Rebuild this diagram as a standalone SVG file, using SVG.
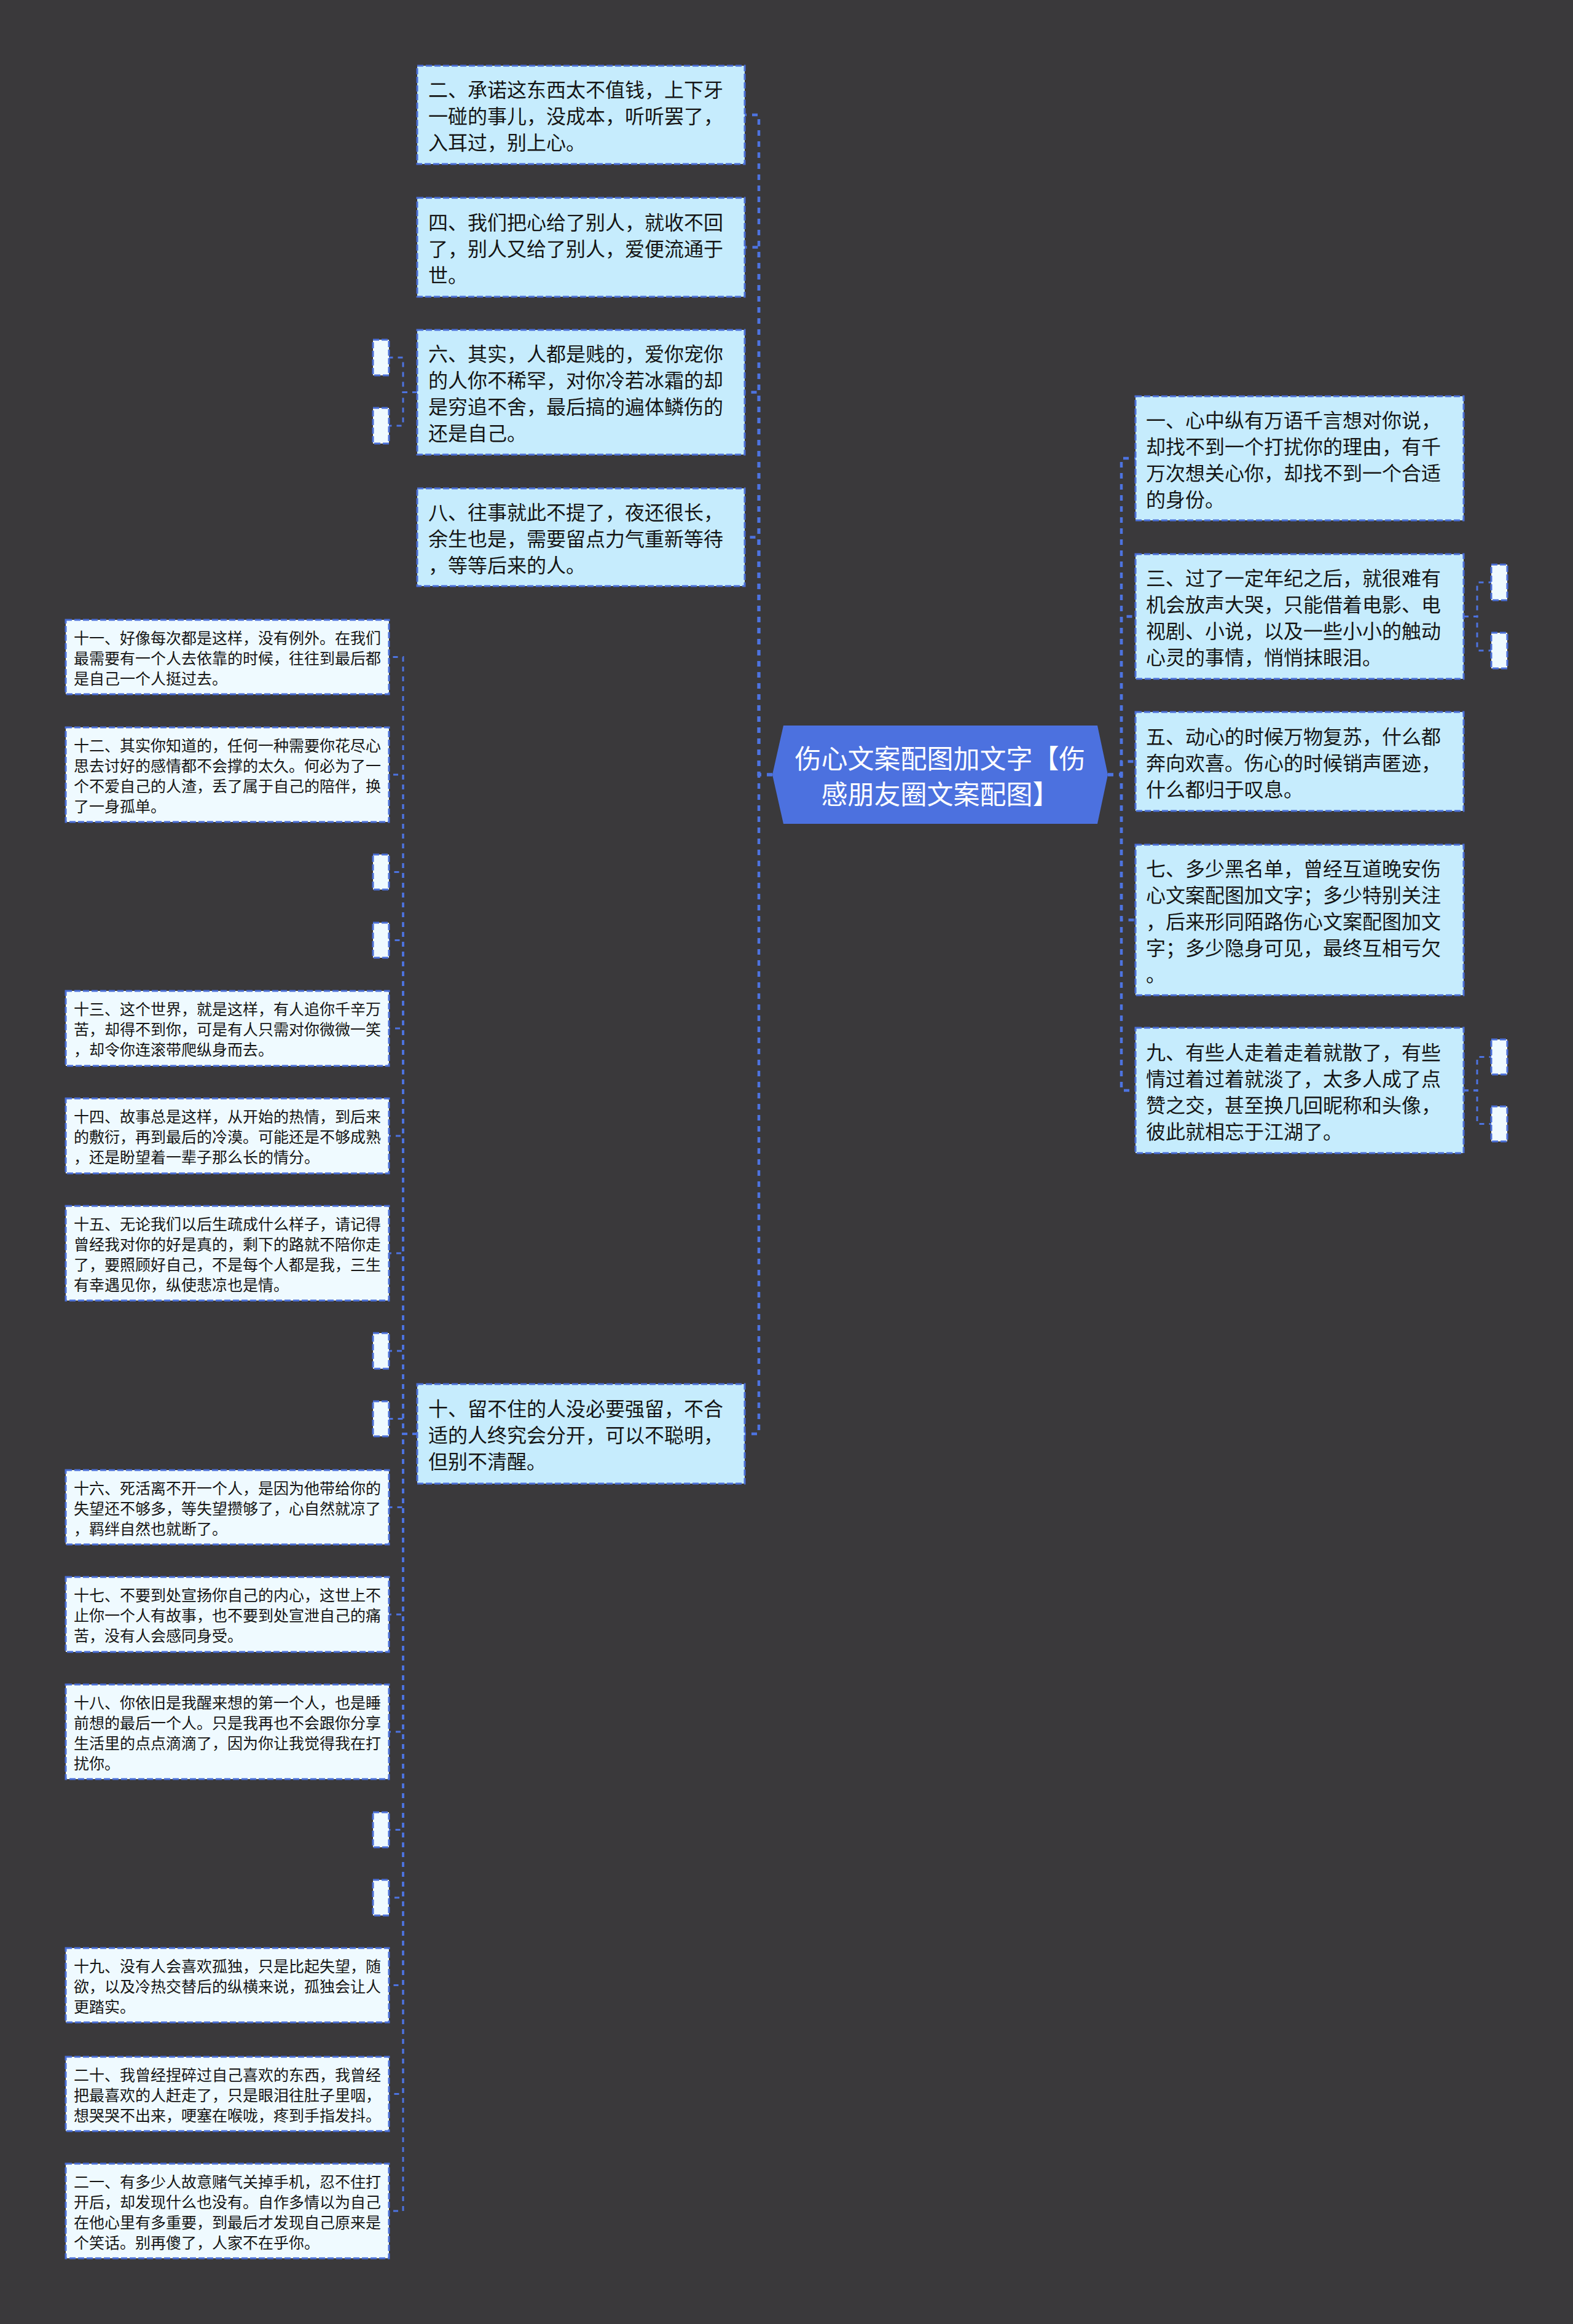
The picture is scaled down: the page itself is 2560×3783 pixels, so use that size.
<svg xmlns="http://www.w3.org/2000/svg" width="2560" height="3783" viewBox="0 0 2560 3783">
<style>
.bg{fill:#3a393b}
.l1{fill:#c6ecfd;stroke:#4a6fd8;stroke-width:3;stroke-dasharray:10 4}
.l2{fill:#effaff;stroke:#4a6fd8;stroke-width:3;stroke-dasharray:10 4}
.root{fill:#4c71df}
.c1{fill:none;stroke:#4d73e0;stroke-width:4.5;stroke-dasharray:9 9}
.c2{fill:none;stroke:#4d73e0;stroke-width:3;stroke-dasharray:8 8}
text{font-family:"Noto Sans CJK SC","Noto Sans",sans-serif;dominant-baseline:central;fill:#151515}
.t1{font-size:32px}
.t2{font-size:25px}
.tr{font-size:43px;fill:#ffffff;text-anchor:middle}
</style>
<rect class="bg" x="0" y="0" width="2560" height="3783"/>
<g id="connectors">
<path class="c1" d="M1257 1261 H1235 V187 H1212"/>
<path class="c1" d="M1257 1261 H1235 V402.5 H1212"/>
<path class="c1" d="M1257 1261 H1235 V638.5 H1212"/>
<path class="c1" d="M1257 1261 H1235 V874.5 H1212"/>
<path class="c1" d="M1257 1261 H1235 V2334 H1212"/>
<path class="c1" d="M1803 1261 H1825 V746 H1848"/>
<path class="c1" d="M1803 1261 H1825 V1003.5 H1848"/>
<path class="c1" d="M1803 1261 H1825 V1239.5 H1848"/>
<path class="c1" d="M1803 1261 H1825 V1497.5 H1848"/>
<path class="c1" d="M1803 1261 H1825 V1775 H1848"/>
<path class="c2" d="M679 638.5 H656 V582 H633"/>
<path class="c2" d="M679 638.5 H656 V693 H633"/>
<path class="c2" d="M2382 1003.5 H2404 V948 H2427"/>
<path class="c2" d="M2382 1003.5 H2404 V1059 H2427"/>
<path class="c2" d="M2382 1775 H2404 V1720.5 H2427"/>
<path class="c2" d="M2382 1775 H2404 V1829.5 H2427"/>
<path class="c2" d="M679 2334 H656 V1069.5 H633"/>
<path class="c2" d="M679 2334 H656 V1261 H633"/>
<path class="c2" d="M679 2334 H656 V1419.5 H633"/>
<path class="c2" d="M679 2334 H656 V1530.5 H633"/>
<path class="c2" d="M679 2334 H656 V1674 H633"/>
<path class="c2" d="M679 2334 H656 V1849 H633"/>
<path class="c2" d="M679 2334 H656 V2040 H633"/>
<path class="c2" d="M679 2334 H656 V2199 H633"/>
<path class="c2" d="M679 2334 H656 V2309.5 H633"/>
<path class="c2" d="M679 2334 H656 V2453.5 H633"/>
<path class="c2" d="M679 2334 H656 V2628 H633"/>
<path class="c2" d="M679 2334 H656 V2819 H633"/>
<path class="c2" d="M679 2334 H656 V2978.5 H633"/>
<path class="c2" d="M679 2334 H656 V3089 H633"/>
<path class="c2" d="M679 2334 H656 V3231.5 H633"/>
<path class="c2" d="M679 2334 H656 V3408.5 H633"/>
<path class="c2" d="M679 2334 H656 V3599 H633"/>
</g>
<g id="root">
<polygon class="root" points="1257,1261 1275,1181 1786,1181 1803,1261 1786,1341 1275,1341"/>
<text class="tr"><tspan x="1530" y="1232">伤心文案配图加文字【伤</tspan><tspan x="1530" y="1290">感朋友圈文案配图】</tspan></text>
</g>
<g id="n2">
<rect class="l1" x="679" y="107" width="533" height="160"/>
<text class="t1"><tspan x="697" y="144">二、承诺这东西太不值钱，上下牙</tspan><tspan x="697" y="187">一碰的事儿，没成本，听听罢了，</tspan><tspan x="697" y="230">入耳过，别上心。</tspan></text>
</g>
<g id="n4">
<rect class="l1" x="679" y="322" width="533" height="161"/>
<text class="t1"><tspan x="697" y="359.5">四、我们把心给了别人，就收不回</tspan><tspan x="697" y="402.5">了，别人又给了别人，爱便流通于</tspan><tspan x="697" y="445.5">世。</tspan></text>
</g>
<g id="n6">
<rect class="l1" x="679" y="537" width="533" height="203"/>
<text class="t1"><tspan x="697" y="574">六、其实，人都是贱的，爱你宠你</tspan><tspan x="697" y="617">的人你不稀罕，对你冷若冰霜的却</tspan><tspan x="697" y="660">是穷追不舍，最后搞的遍体鳞伤的</tspan><tspan x="697" y="703">还是自己。</tspan></text>
</g>
<g id="n6a"><rect class="l2" x="607" y="553" width="26" height="58"/></g>
<g id="n6b"><rect class="l2" x="607" y="664" width="26" height="58"/></g>
<g id="n8">
<rect class="l1" x="679" y="795" width="533" height="159"/>
<text class="t1"><tspan x="697" y="831.5">八、往事就此不提了，夜还很长，</tspan><tspan x="697" y="874.5">余生也是，需要留点力气重新等待</tspan><tspan x="697" y="917.5">，等等后来的人。</tspan></text>
</g>
<g id="n10">
<rect class="l1" x="679" y="2253" width="533" height="162"/>
<text class="t1"><tspan x="697" y="2291">十、留不住的人没必要强留，不合</tspan><tspan x="697" y="2334">适的人终究会分开，可以不聪明，</tspan><tspan x="697" y="2377">但别不清醒。</tspan></text>
</g>
<g id="n1">
<rect class="l1" x="1848" y="645" width="534" height="202"/>
<text class="t1"><tspan x="1865" y="681.5">一、心中纵有万语千言想对你说，</tspan><tspan x="1865" y="724.5">却找不到一个打扰你的理由，有千</tspan><tspan x="1865" y="767.5">万次想关心你，却找不到一个合适</tspan><tspan x="1865" y="810.5">的身份。</tspan></text>
</g>
<g id="n3">
<rect class="l1" x="1848" y="902" width="534" height="203"/>
<text class="t1"><tspan x="1865" y="939">三、过了一定年纪之后，就很难有</tspan><tspan x="1865" y="982">机会放声大哭，只能借着电影、电</tspan><tspan x="1865" y="1025">视剧、小说，以及一些小小的触动</tspan><tspan x="1865" y="1068">心灵的事情，悄悄抹眼泪。</tspan></text>
</g>
<g id="n3a"><rect class="l2" x="2427" y="919" width="26" height="58"/></g>
<g id="n3b"><rect class="l2" x="2427" y="1030" width="26" height="58"/></g>
<g id="n5">
<rect class="l1" x="1848" y="1159" width="534" height="161"/>
<text class="t1"><tspan x="1865" y="1196.5">五、动心的时候万物复苏，什么都</tspan><tspan x="1865" y="1239.5">奔向欢喜。伤心的时候销声匿迹，</tspan><tspan x="1865" y="1282.5">什么都归于叹息。</tspan></text>
</g>
<g id="n7">
<rect class="l1" x="1848" y="1375" width="534" height="245"/>
<text class="t1"><tspan x="1865" y="1411.5">七、多少黑名单，曾经互道晚安伤</tspan><tspan x="1865" y="1454.5">心文案配图加文字；多少特别关注</tspan><tspan x="1865" y="1497.5">，后来形同陌路伤心文案配图加文</tspan><tspan x="1865" y="1540.5">字；多少隐身可见，最终互相亏欠</tspan><tspan x="1865" y="1583.5">。</tspan></text>
</g>
<g id="n9">
<rect class="l1" x="1848" y="1673" width="534" height="204"/>
<text class="t1"><tspan x="1865" y="1710.5">九、有些人走着走着就散了，有些</tspan><tspan x="1865" y="1753.5">情过着过着就淡了，太多人成了点</tspan><tspan x="1865" y="1796.5">赞之交，甚至换几回昵称和头像，</tspan><tspan x="1865" y="1839.5">彼此就相忘于江湖了。</tspan></text>
</g>
<g id="n9a"><rect class="l2" x="2427" y="1692" width="26" height="57"/></g>
<g id="n9b"><rect class="l2" x="2427" y="1801" width="26" height="57"/></g>
<g id="n11">
<rect class="l2" x="107" y="1009" width="526" height="121"/>
<text class="t2"><tspan x="120" y="1036.5">十一、好像每次都是这样，没有例外。在我们</tspan><tspan x="120" y="1069.5">最需要有一个人去依靠的时候，往往到最后都</tspan><tspan x="120" y="1102.5">是自己一个人挺过去。</tspan></text>
</g>
<g id="n12">
<rect class="l2" x="107" y="1184" width="526" height="154"/>
<text class="t2"><tspan x="120" y="1211.5">十二、其实你知道的，任何一种需要你花尽心</tspan><tspan x="120" y="1244.5">思去讨好的感情都不会撑的太久。何必为了一</tspan><tspan x="120" y="1277.5">个不爱自己的人渣，丢了属于自己的陪伴，换</tspan><tspan x="120" y="1310.5">了一身孤单。</tspan></text>
</g>
<g id="n10a"><rect class="l2" x="607" y="1391" width="26" height="57"/></g>
<g id="n10b"><rect class="l2" x="607" y="1502" width="26" height="57"/></g>
<g id="n13">
<rect class="l2" x="107" y="1613" width="526" height="122"/>
<text class="t2"><tspan x="120" y="1641">十三、这个世界，就是这样，有人追你千辛万</tspan><tspan x="120" y="1674">苦，却得不到你，可是有人只需对你微微一笑</tspan><tspan x="120" y="1707">，却令你连滚带爬纵身而去。</tspan></text>
</g>
<g id="n14">
<rect class="l2" x="107" y="1788" width="526" height="122"/>
<text class="t2"><tspan x="120" y="1816">十四、故事总是这样，从开始的热情，到后来</tspan><tspan x="120" y="1849">的敷衍，再到最后的冷漠。可能还是不够成熟</tspan><tspan x="120" y="1882">，还是盼望着一辈子那么长的情分。</tspan></text>
</g>
<g id="n15">
<rect class="l2" x="107" y="1963" width="526" height="154"/>
<text class="t2"><tspan x="120" y="1990.5">十五、无论我们以后生疏成什么样子，请记得</tspan><tspan x="120" y="2023.5">曾经我对你的好是真的，剩下的路就不陪你走</tspan><tspan x="120" y="2056.5">了，要照顾好自己，不是每个人都是我，三生</tspan><tspan x="120" y="2089.5">有幸遇见你，纵使悲凉也是情。</tspan></text>
</g>
<g id="n10c"><rect class="l2" x="607" y="2170" width="26" height="58"/></g>
<g id="n10d"><rect class="l2" x="607" y="2281" width="26" height="57"/></g>
<g id="n16">
<rect class="l2" x="107" y="2393" width="526" height="121"/>
<text class="t2"><tspan x="120" y="2420.5">十六、死活离不开一个人，是因为他带给你的</tspan><tspan x="120" y="2453.5">失望还不够多，等失望攒够了，心自然就凉了</tspan><tspan x="120" y="2486.5">，羁绊自然也就断了。</tspan></text>
</g>
<g id="n17">
<rect class="l2" x="107" y="2567" width="526" height="122"/>
<text class="t2"><tspan x="120" y="2595">十七、不要到处宣扬你自己的内心，这世上不</tspan><tspan x="120" y="2628">止你一个人有故事，也不要到处宣泄自己的痛</tspan><tspan x="120" y="2661">苦，没有人会感同身受。</tspan></text>
</g>
<g id="n18">
<rect class="l2" x="107" y="2742" width="526" height="154"/>
<text class="t2"><tspan x="120" y="2769.5">十八、你依旧是我醒来想的第一个人，也是睡</tspan><tspan x="120" y="2802.5">前想的最后一个人。只是我再也不会跟你分享</tspan><tspan x="120" y="2835.5">生活里的点点滴滴了，因为你让我觉得我在打</tspan><tspan x="120" y="2868.5">扰你。</tspan></text>
</g>
<g id="n10e"><rect class="l2" x="607" y="2950" width="26" height="57"/></g>
<g id="n10f"><rect class="l2" x="607" y="3060" width="26" height="58"/></g>
<g id="n19">
<rect class="l2" x="107" y="3171" width="526" height="121"/>
<text class="t2"><tspan x="120" y="3198.5">十九、没有人会喜欢孤独，只是比起失望，随</tspan><tspan x="120" y="3231.5">欲，以及冷热交替后的纵横来说，孤独会让人</tspan><tspan x="120" y="3264.5">更踏实。</tspan></text>
</g>
<g id="n20">
<rect class="l2" x="107" y="3348" width="526" height="121"/>
<text class="t2"><tspan x="120" y="3375.5">二十、我曾经捏碎过自己喜欢的东西，我曾经</tspan><tspan x="120" y="3408.5">把最喜欢的人赶走了，只是眼泪往肚子里咽，</tspan><tspan x="120" y="3441.5">想哭哭不出来，哽塞在喉咙，疼到手指发抖。</tspan></text>
</g>
<g id="n21">
<rect class="l2" x="107" y="3522" width="526" height="154"/>
<text class="t2"><tspan x="120" y="3549.5">二一、有多少人故意赌气关掉手机，忍不住打</tspan><tspan x="120" y="3582.5">开后，却发现什么也没有。自作多情以为自己</tspan><tspan x="120" y="3615.5">在他心里有多重要，到最后才发现自己原来是</tspan><tspan x="120" y="3648.5">个笑话。别再傻了，人家不在乎你。</tspan></text>
</g>
</svg>
